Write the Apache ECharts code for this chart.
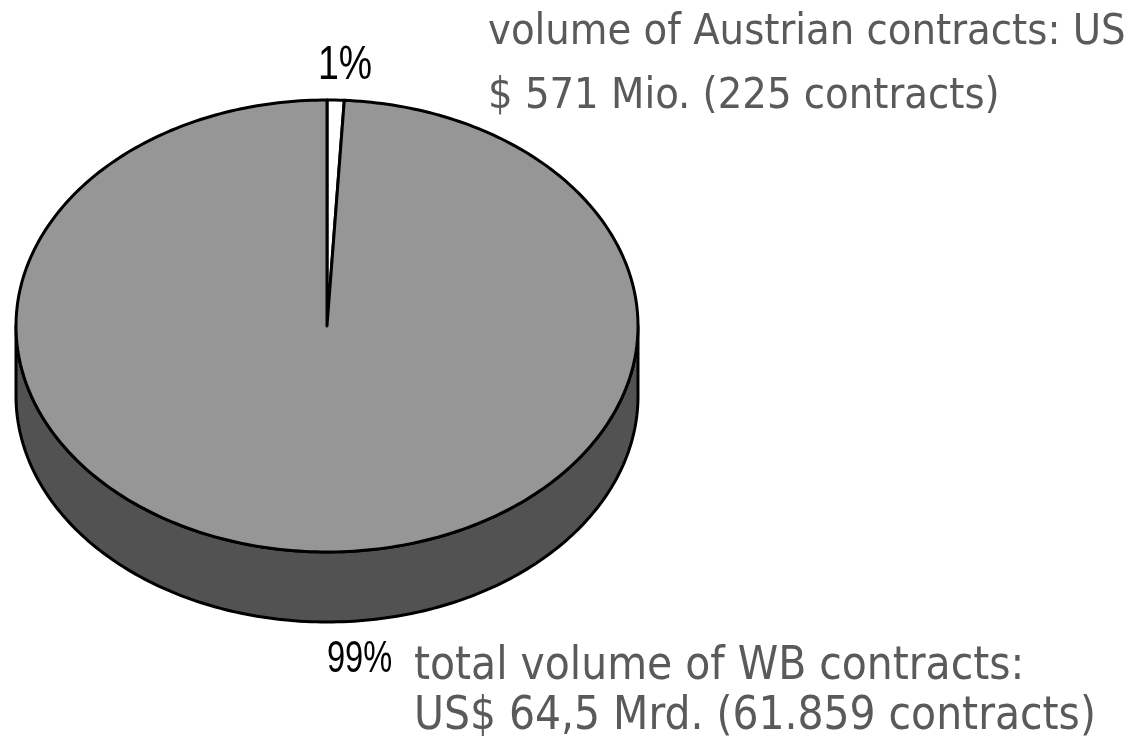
<!DOCTYPE html>
<html>
<head>
<meta charset="utf-8">
<script src="https://cdn.jsdelivr.net/npm/echarts@6/dist/echarts.min.js"></script>
<style>
  html, body { margin: 0; padding: 0; background: #fff; }
  #main { width: 1142px; height: 755px; }
</style>
</head>
<body>
<div id="main"></div>
<script>
// contract volume, US$ Mio.
const sliceNames = ['Austrian contracts', 'other WB contracts'];
const sliceValues = [571, 63929];
const pctLabels = ['1%', '99%'];
const austriaNote = ['volume of Austrian contracts: US', '$ 571 Mio. (225 contracts)'];
const totalNote = ['total volume of WB contracts:', 'US$ 64,5 Mrd. (61.859 contracts)'];

const topColors = ['#ffffff', '#969696'];
const sideColors = ['#b0b0b0', '#525252'];

// elliptic top face + front wall
const pie = { cx: 327, cy: 326, rx: 311, ry: 226, depth: 70 };
const total = sliceValues.reduce((a, b) => a + b, 0);

// angle clockwise from 12 o'clock
function pt(a, dy) {
  return [pie.cx + pie.rx * Math.sin(a), pie.cy - pie.ry * Math.cos(a) + dy];
}

function arcPoints(a0, a1, dy) {
  const n = Math.max(2, Math.ceil((a1 - a0) / (Math.PI / 180)));
  const pts = [];
  for (let i = 0; i <= n; i++) pts.push(pt(a0 + (a1 - a0) * i / n, dy));
  return pts;
}

function renderSlice(params, api) {
  const idx = params.dataIndex;
  let before = 0;
  for (let i = 0; i < idx; i++) before += sliceValues[i];
  const a0 = before / total * 2 * Math.PI;
  const a1 = (before + api.value(0)) / total * 2 * Math.PI;
  const children = [];
  const line = { stroke: '#000', lineWidth: 3, lineJoin: 'round' };

  // front wall is only seen between 3 and 9 o'clock
  const s0 = Math.max(a0, Math.PI / 2);
  const s1 = Math.min(a1, Math.PI * 1.5);
  if (s1 > s0) {
    const pts = arcPoints(s0, s1, 0).concat(arcPoints(s0, s1, pie.depth).reverse());
    children.push({
      type: 'polygon',
      shape: { points: pts },
      style: Object.assign({ fill: sideColors[idx] }, line)
    });
  }
  children.push({
    type: 'polygon',
    shape: { points: [[pie.cx, pie.cy]].concat(arcPoints(a0, a1, 0)) },
    style: Object.assign({ fill: topColors[idx] }, line)
  });
  return { type: 'group', children: children };
}

const noteFont = '"DejaVu Sans Condensed", "DejaVu Sans", sans-serif';
const pctFont = '"Liberation Sans", Arial, sans-serif';

const chart = echarts.init(document.getElementById('main'));
chart.setOption({
  animation: false,
  backgroundColor: '#fff',
  series: [{
    type: 'custom',
    coordinateSystem: 'none',
    renderItem: renderSlice,
    data: sliceValues.map((v, i) => ({ name: sliceNames[i], value: v }))
  }],
  graphic: [
    {
      type: 'text', x: 318, y: 42, scaleX: 0.78,
      style: { text: pctLabels[0], font: '48px ' + pctFont, fill: '#000' }
    },
    {
      type: 'text', x: 327, y: 638, scaleX: 0.74,
      style: { text: pctLabels[1], font: '44px ' + pctFont, fill: '#000' }
    },
    {
      type: 'text', x: 488, y: 1,
      style: { text: austriaNote.join('\n'), font: '43px ' + noteFont, fill: '#5a5a5a', lineHeight: 64 }
    },
    {
      type: 'text', x: 414, y: 642,
      style: { text: totalNote.join('\n'), font: '45.5px ' + noteFont, fill: '#5a5a5a', lineHeight: 50 }
    }
  ]
});
</script>
</body>
</html>
